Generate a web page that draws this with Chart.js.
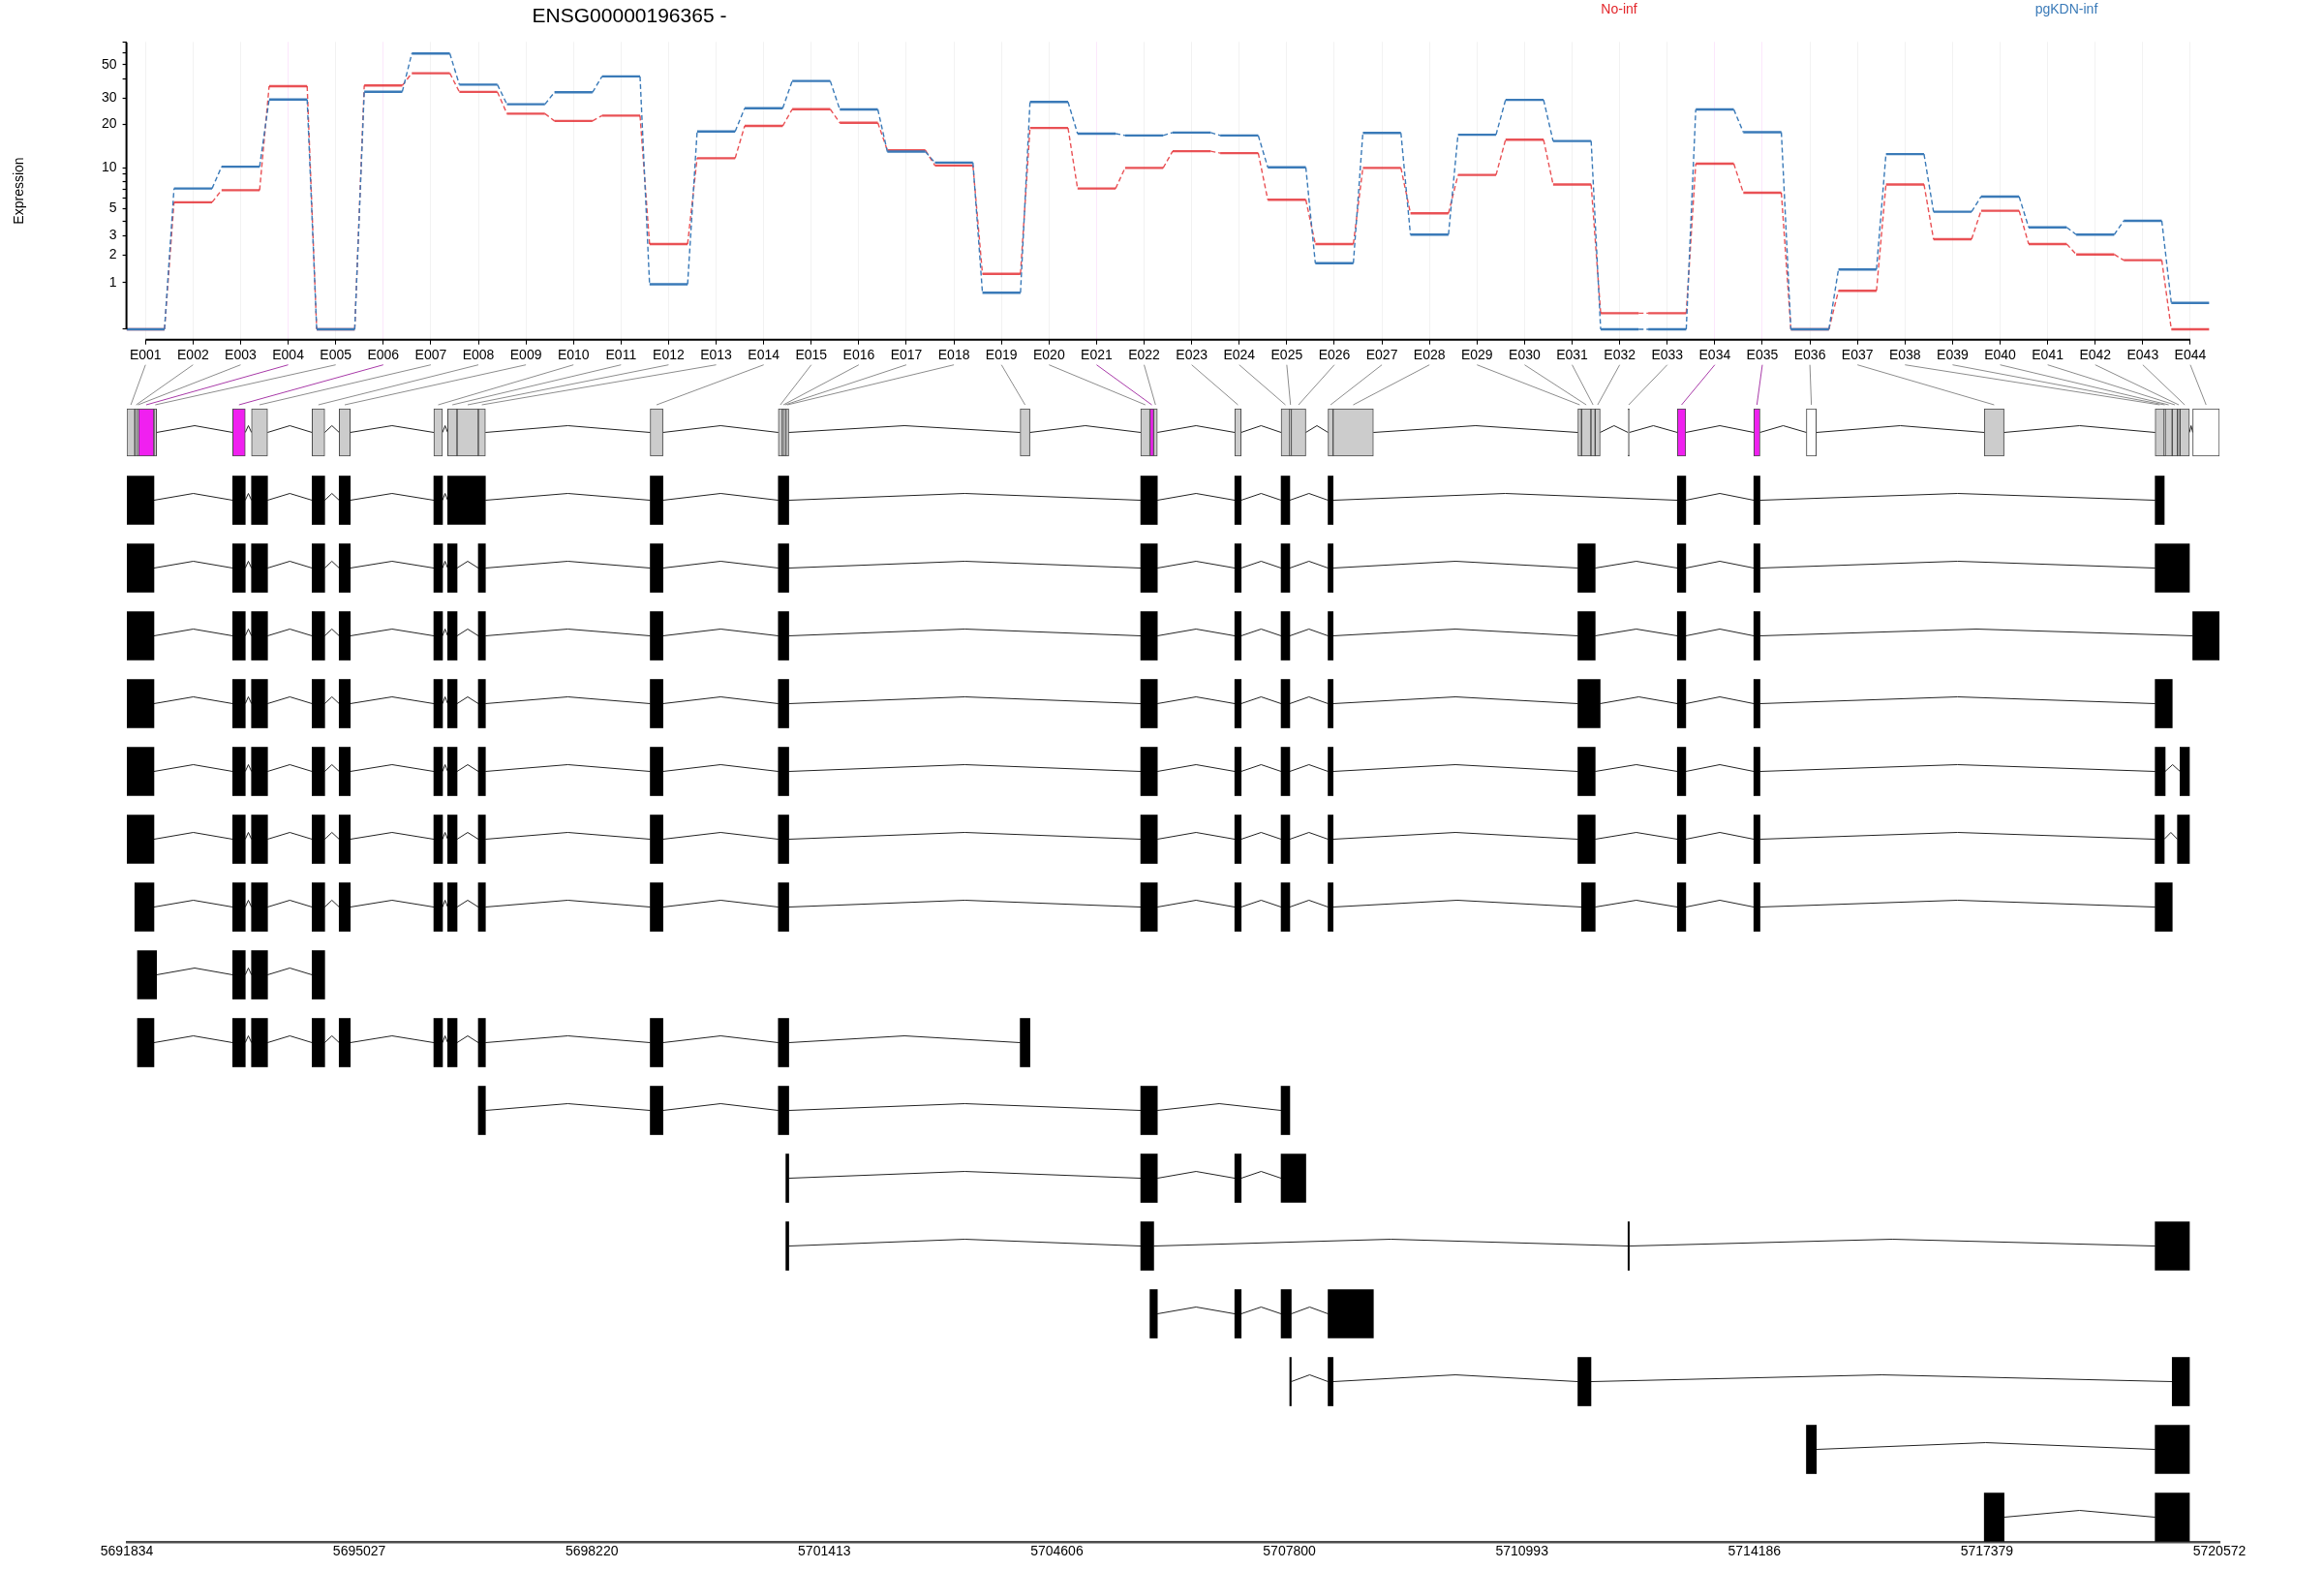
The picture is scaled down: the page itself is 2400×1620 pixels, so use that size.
<!DOCTYPE html>
<html lang="en">
<head>
<meta charset="UTF-8" />
<title>ENSG00000196365</title>
<script src="https://cdn.jsdelivr.net/npm/chart.js@4.4.0/dist/chart.umd.min.js"></script>
<style>
  body { margin: 0; background: #fff; }
  #wrap { position: relative; width: 2400px; height: 1620px; font-family: "Liberation Sans", Arial, sans-serif; }
  canvas { position: absolute; left: 0; top: 0; }
  .txt { position: absolute; white-space: nowrap; line-height: 1; transform: translate(-50%, -50%); }
</style>
</head>
<body>
<div id="wrap">
  <canvas id="model" width="2400" height="1620"></canvas>
  <canvas id="expr" width="2400" height="400"></canvas>
  <div class="txt" style="left:650px; top:15px; font-size:21px;">ENSG00000196365 -</div>
  <div class="txt" style="left:1672px; top:9px; font-size:14px; color:#e3262b;">No-inf</div>
  <div class="txt" style="left:2134px; top:9px; font-size:14px; color:#3a7ab8;">pgKDN-inf</div>
</div>
<script>
// exonic parts of the gene
const exonIds = ["E001","E002","E003","E004","E005","E006","E007","E008","E009","E010",
  "E011","E012","E013","E014","E015","E016","E017","E018","E019","E020",
  "E021","E022","E023","E024","E025","E026","E027","E028","E029","E030",
  "E031","E032","E033","E034","E035","E036","E037","E038","E039","E040",
  "E041","E042","E043","E044"];

// expression per exonic part
const noInf = [0, 5.6, 6.9, 36.0, 0, 36.4, 43.9, 33.0, 23.6, 21.1,
  22.9, 2.55, 11.7, 19.5, 25.3, 20.5, 13.3, 10.4, 1.28, 18.9,
  7.1, 10.0, 13.1, 12.7, 5.85, 2.55, 10.0, 4.6, 8.9, 15.7,
  7.6, 0.27, 0.27, 10.7, 6.6, 0, 0.77, 7.6, 2.81, 4.82,
  2.55, 2.04, 1.79, 0];
const pgKdnInf = [0, 7.1, 10.2, 29.4, 0, 33.1, 59.2, 36.9, 27.3, 32.8,
  41.8, 0.95, 17.9, 25.7, 39.0, 25.2, 13.0, 10.9, 0.72, 28.3,
  17.3, 16.8, 17.6, 16.8, 10.1, 1.67, 17.5, 3.08, 17.0, 29.2,
  15.4, 0, 0, 25.2, 17.7, 0, 1.43, 12.5, 4.73, 6.18,
  3.55, 3.08, 4.01, 0.48];

// genomic extent of each exonic part
const partStart = [5691834, 5691944, 5691980, 5691994, 5692206, 5693288, 5693546, 5694378, 5694750, 5696050,
  5696240, 5696369, 5696661, 5699022, 5700781, 5700837, 5700864, 5700885, 5704103, 5705758,
  5705885, 5705936, 5707050, 5707686, 5707805, 5707825, 5708331, 5708399, 5711762, 5711812,
  5711941, 5711999, 5712450, 5713128, 5714178, 5714900, 5717343, 5719690, 5719814, 5719827,
  5719924, 5719996, 5720031, 5720206];
const partEnd = [5691944, 5691980, 5691994, 5692206, 5692242, 5693460, 5693766, 5694551, 5694902, 5696169,
  5696369, 5696661, 5696758, 5699196, 5700837, 5700864, 5700885, 5700924, 5704236, 5705885,
  5705936, 5705986, 5707137, 5707805, 5707825, 5708025, 5708399, 5708953, 5711812, 5711941,
  5711999, 5712067, 5712468, 5713243, 5714262, 5715036, 5717614, 5719814, 5719827, 5719924,
  5719996, 5720031, 5720160, 5720572];

const significant = ["E004", "E006", "E021", "E034", "E035"];
const untested = ["E036", "E044"];

// transcripts: exons as [first part, last part] (1-based)
const transcripts = [
  [[1,4],[6,6],[7,7],[8,8],[9,9],[10,10],[11,13],[14,14],[15,18],[20,22],[23,23],[24,24],[27,27],[34,34],[35,35],[38,38]],
  [[1,4],[6,6],[7,7],[8,8],[9,9],[10,10],[11,11],[13,13],[14,14],[15,18],[20,22],[23,23],[24,24],[27,27],[29,31],[34,34],[35,35],[38,43]],
  [[1,4],[6,6],[7,7],[8,8],[9,9],[10,10],[11,11],[13,13],[14,14],[15,18],[20,22],[23,23],[24,24],[27,27],[29,31],[34,34],[35,35],[44,44]],
  [[1,4],[6,6],[7,7],[8,8],[9,9],[10,10],[11,11],[13,13],[14,14],[15,18],[20,22],[23,23],[24,24],[27,27],[29,32],[34,34],[35,35],[38,40]],
  [[1,4],[6,6],[7,7],[8,8],[9,9],[10,10],[11,11],[13,13],[14,14],[15,18],[20,22],[23,23],[24,24],[27,27],[29,31],[34,34],[35,35],[38,39],[43,43]],
  [[1,4],[6,6],[7,7],[8,8],[9,9],[10,10],[11,11],[13,13],[14,14],[15,18],[20,22],[23,23],[24,24],[27,27],[29,31],[34,34],[35,35],[38,38],[42,43]],
  [[2,4],[6,6],[7,7],[8,8],[9,9],[10,10],[11,11],[13,13],[14,14],[15,18],[20,22],[23,23],[24,24],[27,27],[30,31],[34,34],[35,35],[38,40]],
  [[3,5],[6,6],[7,7],[8,8]],
  [[3,4],[6,6],[7,7],[8,8],[9,9],[10,10],[11,11],[13,13],[14,14],[15,18],[19,19]],
  [[13,13],[14,14],[15,18],[20,22],[24,24]],
  [[18,18],[20,22],[23,23],[24,26]],
  [[18,18],[20,21],[33,33],[38,43]],
  [[21,22],[23,23],[24,25],[27,28]],
  [[25,25],[27,27],[29,30],[41,43]],
  [[36,36],[38,43]],
  [[37,37],[38,43]]
];

const yTicks = [0, 1, 2, 3, 4, 5, 6, 7, 8, 9, 10, 20, 30, 40, 50, 60, 70];
const yLabels = [1, 2, 3, 5, 10, 20, 30, 50];
const coordTicks = [5691834, 5695027, 5698220, 5701413, 5704606, 5707800, 5710993, 5714186, 5717379, 5720572];

Chart.defaults.font.family = '"Liberation Sans", Arial, sans-serif';
Chart.defaults.font.size = 14;
Chart.defaults.color = "#000";

const toLog = v => Math.log10(v + 1);

function stepPoints(vals) {
  const pts = [];
  vals.forEach((v, i) => {
    pts.push({ x: i + 0.6, y: toLog(v) });
    pts.push({ x: i + 1.4, y: toLog(v) });
  });
  return pts;
}

const stepSegment = {
  borderDash: ctx => (ctx.p0DataIndex % 2 ? [5, 3] : undefined),
  borderWidth: ctx => (ctx.p0DataIndex % 2 ? 1.4 : 2.4)
};

// R style axis lines, only between the outer ticks
const rAxes = {
  id: "rAxes",
  afterDraw(chart) {
    const { ctx, chartArea, scales } = chart;
    ctx.save();
    ctx.strokeStyle = "#000";
    ctx.lineWidth = 2;
    ctx.beginPath();
    ctx.moveTo(scales.x.getPixelForValue(1), chartArea.bottom);
    ctx.lineTo(scales.x.getPixelForValue(exonIds.length), chartArea.bottom);
    ctx.moveTo(chartArea.left, scales.y.getPixelForValue(toLog(yTicks[yTicks.length - 1])));
    ctx.lineTo(chartArea.left, scales.y.getPixelForValue(0));
    ctx.stroke();
    ctx.restore();
  }
};

const exprChart = new Chart(document.getElementById("expr"), {
  type: "line",
  data: {
    datasets: [
      { label: "pgKDN-inf", data: stepPoints(pgKdnInf), borderColor: "#3a7ab8", segment: stepSegment },
      { label: "No-inf", data: stepPoints(noInf), borderColor: "rgba(227,38,43,0.8)", segment: stepSegment }
    ]
  },
  options: {
    responsive: false,
    animation: false,
    devicePixelRatio: 1,
    layout: { padding: { top: 43.3, right: 118.4, left: 0, bottom: 0 } },
    elements: { point: { radius: 0 }, line: { tension: 0, borderWidth: 2 } },
    plugins: { legend: { display: false }, tooltip: { enabled: false } },
    scales: {
      x: {
        type: "linear",
        min: 0.6,
        max: 44.4,
        afterBuildTicks: s => { s.ticks = exonIds.map((_, i) => ({ value: i + 1 })); },
        afterFit: s => { s.height = 400 - 350.7; },
        ticks: { callback: (v, i) => exonIds[i], autoSkip: false, maxRotation: 0, padding: 3 },
        grid: {
          color: ctx => (ctx.tick && significant.includes(exonIds[ctx.tick.value - 1]) ? "rgba(230,60,230,0.12)" : "rgba(0,0,0,0.05)"),
          tickColor: "#000",
          tickLength: 5
        },
        border: { display: false }
      },
      y: {
        type: "linear",
        min: -0.067,
        max: 1.854,
        afterBuildTicks: s => { s.ticks = yTicks.map(v => ({ value: toLog(v) })); },
        afterFit: s => { s.width = 130.6; },
        ticks: { callback: (v, i) => (yLabels.includes(yTicks[i]) ? String(yTicks[i]) : ""), autoSkip: false, padding: 6 },
        grid: { drawOnChartArea: false, tickColor: "#000", tickLength: 4, tickWidth: 1.2 },
        border: { display: false },
        title: { display: true, text: "Expression", padding: { top: 12, bottom: 0 } }
      }
    }
  },
  plugins: [rAxes]
});

// intron lines: from exon end up to a peak and down to next exon start
function intronPoints(intervals, row) {
  const pts = [];
  for (let k = 0; k + 1 < intervals.length; k++) {
    const a = intervals[k][1], b = intervals[k + 1][0];
    if (b <= a) continue;
    pts.push({ x: a, y: row }, { x: (a + b) / 2, y: row - 0.1 }, { x: b, y: row }, { x: b, y: null });
  }
  return pts;
}

const partIntervals = partStart.map((s, i) => [s, partEnd[i]]);
const txIntervals = transcripts.map(tx => tx.map(([f, l]) => [partStart[f - 1], partEnd[l - 1]]));

const intronSets = [intronPoints(partIntervals, 0)].concat(txIntervals.map((iv, r) => intronPoints(iv, r + 1)))
  .map(pts => ({
    type: "line", data: pts, borderColor: "#222", borderWidth: 1,
    pointRadius: 0, spanGaps: false, order: 2
  }));

const partColors = exonIds.map(id => (significant.includes(id) ? "#f020f0" : untested.includes(id) ? "#ffffff" : "#cccccc"));

const txBars = [];
txIntervals.forEach((iv, r) => iv.forEach(([s, e]) => txBars.push({ x: [s, e], y: r + 1 })));

// lines from the exon labels above to the exonic parts
const exonLinks = {
  id: "exonLinks",
  afterDatasetsDraw(chart) {
    const { ctx, scales } = chart;
    const top = exprChart.chartArea.bottom + 26;
    const bottom = scales.y.getPixelForValue(0) - 28.5;
    ctx.save();
    ctx.lineWidth = 1;
    exonIds.forEach((id, i) => {
      ctx.strokeStyle = significant.includes(id) ? "#a83aa8" : "#8c8c8c";
      ctx.beginPath();
      ctx.moveTo(exprChart.scales.x.getPixelForValue(i + 1), top);
      ctx.lineTo(scales.x.getPixelForValue((partStart[i] + partEnd[i]) / 2), bottom);
      ctx.stroke();
    });
    ctx.restore();
  }
};

new Chart(document.getElementById("model"), {
  type: "bar",
  data: {
    datasets: intronSets.concat([
      {
        type: "bar", indexAxis: "y", grouped: false, order: 1,
        data: partIntervals.map(iv => ({ x: iv, y: 0 })),
        backgroundColor: partColors, borderColor: "#4a4a4a", borderWidth: 1, borderSkipped: false,
        barThickness: 49
      },
      {
        type: "bar", indexAxis: "y", grouped: false, order: 1,
        data: txBars, backgroundColor: "#000", borderWidth: 0,
        barThickness: 50
      }
    ])
  },
  options: {
    responsive: false,
    animation: false,
    devicePixelRatio: 1,
    indexAxis: "y",
    layout: { padding: { top: 370, right: 108, left: 131, bottom: 0 } },
    plugins: { legend: { display: false }, tooltip: { enabled: false } },
    scales: {
      x: {
        type: "linear",
        offset: false,
        min: coordTicks[0],
        max: coordTicks[coordTicks.length - 1],
        afterBuildTicks: s => { s.ticks = coordTicks.map(v => ({ value: v })); },
        afterFit: s => { s.height = 1620 - 1592; },
        ticks: { callback: v => String(v), autoSkip: false, maxRotation: 0, padding: 2 },
        grid: { display: true, drawOnChartArea: false, drawTicks: false },
        border: { display: true, color: "#4d4d4d", width: 2.5 }
      },
      y: { type: "linear", offset: false, reverse: true, min: -1.093, max: 16.364, display: false }
    }
  },
  plugins: [exonLinks]
});
</script>
</body>
</html>
